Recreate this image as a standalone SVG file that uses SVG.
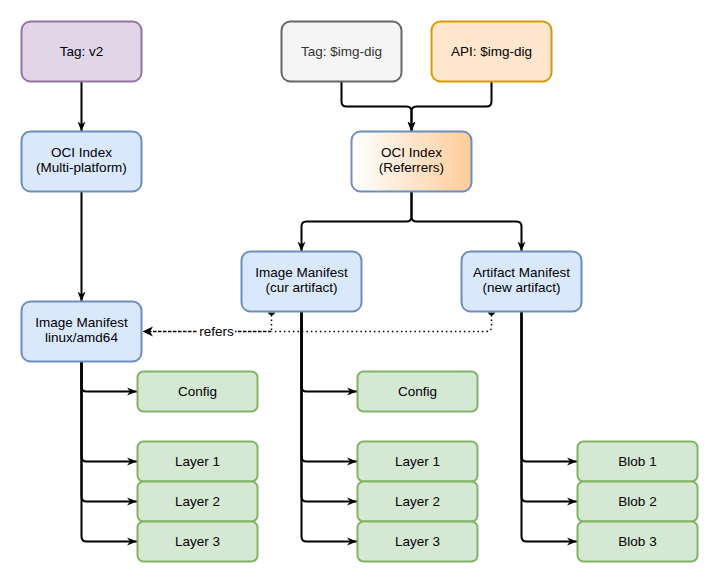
<svg xmlns="http://www.w3.org/2000/svg" width="717" height="582" viewBox="0 0 717 582">
<style>
.n rect{stroke-width:2}
.blue{fill:#dae8fc;stroke:#6c8ebf}
.purple{fill:#e1d5e7;stroke:#9673a6}
.gray{fill:#f5f5f5;stroke:#666666}
.orange{fill:#ffe6cc;stroke:#d79b00}
.green{fill:#d5e8d4;stroke:#82b366}
text{font-family:"Liberation Sans",Arial,sans-serif;font-size:13.5px;fill:#000;text-anchor:middle}
.e{fill:none;stroke:#000;stroke-width:2;stroke-linejoin:round}
.d{fill:none;stroke:#000;stroke-width:1.5}
</style>
<defs>
<linearGradient id="g" x1="0" y1="0" x2="1" y2="0"><stop offset="0" stop-color="#ffffff"/><stop offset="1" stop-color="#ffcc99"/></linearGradient>
<marker id="a" viewBox="0 0 10 10" refX="10" refY="5" markerWidth="10" markerHeight="10" markerUnits="userSpaceOnUse" orient="auto"><path d="M0,1 L10,5 L0,9 L3,5 z" fill="#000"/></marker>
</defs>
<g id="connectors">
<path class="e" d="M81.5,81.5 V131.5" marker-end="url(#a)"/>
<path class="e" d="M81.5,191.5 V301.5" marker-end="url(#a)"/>
<path class="e" d="M341.5,81.5 V101.5 Q341.5,106.5 346.5,106.5 H406.5 Q411.5,106.5 411.5,111.5 V131.5" marker-end="url(#a)"/>
<path class="e" d="M491.5,81.5 V101.5 Q491.5,106.5 486.5,106.5 H416.5 Q411.5,106.5 411.5,111.5 V131.5" marker-end="url(#a)"/>
<path class="e" d="M411.5,191.5 V216.5 Q411.5,221.5 406.5,221.5 H306.5 Q301.5,221.5 301.5,226.5 V251.5" marker-end="url(#a)"/>
<path class="e" d="M411.5,191.5 V216.5 Q411.5,221.5 416.5,221.5 H516.5 Q521.5,221.5 521.5,226.5 V251.5" marker-end="url(#a)"/>
<path class="e" d="M81.5,361.5 V386.5 Q81.5,391.5 86.5,391.5 H137" marker-end="url(#a)"/>
<path class="e" d="M81.5,361.5 V456.5 Q81.5,461.5 86.5,461.5 H137" marker-end="url(#a)"/>
<path class="e" d="M81.5,361.5 V496.5 Q81.5,501.5 86.5,501.5 H137" marker-end="url(#a)"/>
<path class="e" d="M81.5,361.5 V536.5 Q81.5,541.5 86.5,541.5 H137" marker-end="url(#a)"/>
<path class="e" d="M301.5,311.5 V386.5 Q301.5,391.5 306.5,391.5 H357" marker-end="url(#a)"/>
<path class="e" d="M301.5,311.5 V456.5 Q301.5,461.5 306.5,461.5 H357" marker-end="url(#a)"/>
<path class="e" d="M301.5,311.5 V496.5 Q301.5,501.5 306.5,501.5 H357" marker-end="url(#a)"/>
<path class="e" d="M301.5,311.5 V536.5 Q301.5,541.5 306.5,541.5 H357" marker-end="url(#a)"/>
<path class="e" d="M521.5,311.5 V456.5 Q521.5,461.5 526.5,461.5 H577" marker-end="url(#a)"/>
<path class="e" d="M521.5,311.5 V496.5 Q521.5,501.5 526.5,501.5 H577" marker-end="url(#a)"/>
<path class="e" d="M521.5,311.5 V536.5 Q521.5,541.5 526.5,541.5 H577" marker-end="url(#a)"/>
<path class="d" d="M491.5,315 V326.5 Q491.5,331.5 486.5,331.5 H272" stroke-dasharray="1.5 3"/>
<path class="d" d="M271.5,315 V331.5" stroke-dasharray="1.5 3"/>
<path class="d" d="M271.5,331.5 H146" stroke-dasharray="3.5 1.5"/>
<path d="M142.5,331.5 L153,326.5 L150,331.5 L153,336.5 z" fill="#000"/>
<path d="M267.5,312.5 Q271.5,318 275.5,312.5 z" fill="#000"/>
<path d="M487.5,312.5 Q491.5,318 495.5,312.5 z" fill="#000"/>
<rect x="198" y="324" width="37" height="15" fill="#fff"/>
<text x="216.5" y="336">refers</text>
</g>
<g id="tag-v2" class="n"><rect class="purple" x="21.5" y="21.5" width="120" height="60" rx="9"/><text x="81.5" y="56.2">Tag: v2</text></g>
<g id="oci-index-mp" class="n"><rect class="blue" x="21.5" y="131.5" width="120" height="60" rx="9"/><text x="81.5" y="156.7">OCI Index</text><text x="81.5" y="172.3">(Multi-platform)</text></g>
<g id="image-manifest-amd64" class="n"><rect class="blue" x="21.5" y="301.5" width="120" height="60" rx="9"/><text x="81.5" y="326.7">Image Manifest</text><text x="81.5" y="342.3">linux/amd64</text></g>
<g id="tag-img-dig" class="n"><rect class="gray" x="281.5" y="21.5" width="120" height="60" rx="9"/><text x="341.5" y="56.2" style="fill:#333333">Tag: $img-dig</text></g>
<g id="api-img-dig" class="n"><rect class="orange" x="431.5" y="21.5" width="120" height="60" rx="9"/><text x="491.5" y="56.2">API: $img-dig</text></g>
<g id="oci-index-ref" class="n"><rect x="351.5" y="131.5" width="120" height="60" rx="9" fill="url(#g)" stroke="#6c8ebf"/><text x="411.5" y="156.7">OCI Index</text><text x="411.5" y="172.3">(Referrers)</text></g>
<g id="image-manifest-cur" class="n"><rect class="blue" x="241.5" y="251.5" width="120" height="60" rx="9"/><text x="301.5" y="276.7">Image Manifest</text><text x="301.5" y="292.3">(cur artifact)</text></g>
<g id="artifact-manifest-new" class="n"><rect class="blue" x="461.5" y="251.5" width="120" height="60" rx="9"/><text x="521.5" y="276.7">Artifact Manifest</text><text x="521.5" y="292.3">(new artifact)</text></g>
<g id="config-1" class="n"><rect class="green" x="137.5" y="371.5" width="120" height="40" rx="6"/><text x="197.5" y="396.2">Config</text></g>
<g id="layer1-1" class="n"><rect class="green" x="137.5" y="441.5" width="120" height="40" rx="6"/><text x="197.5" y="466.2">Layer 1</text></g>
<g id="layer2-1" class="n"><rect class="green" x="137.5" y="481.5" width="120" height="40" rx="6"/><text x="197.5" y="506.2">Layer 2</text></g>
<g id="layer3-1" class="n"><rect class="green" x="137.5" y="521.5" width="120" height="40" rx="6"/><text x="197.5" y="546.2">Layer 3</text></g>
<g id="config-2" class="n"><rect class="green" x="357.5" y="371.5" width="120" height="40" rx="6"/><text x="417.5" y="396.2">Config</text></g>
<g id="layer1-2" class="n"><rect class="green" x="357.5" y="441.5" width="120" height="40" rx="6"/><text x="417.5" y="466.2">Layer 1</text></g>
<g id="layer2-2" class="n"><rect class="green" x="357.5" y="481.5" width="120" height="40" rx="6"/><text x="417.5" y="506.2">Layer 2</text></g>
<g id="layer3-2" class="n"><rect class="green" x="357.5" y="521.5" width="120" height="40" rx="6"/><text x="417.5" y="546.2">Layer 3</text></g>
<g id="blob1" class="n"><rect class="green" x="577.5" y="441.5" width="120" height="40" rx="6"/><text x="637.5" y="466.2">Blob 1</text></g>
<g id="blob2" class="n"><rect class="green" x="577.5" y="481.5" width="120" height="40" rx="6"/><text x="637.5" y="506.2">Blob 2</text></g>
<g id="blob3" class="n"><rect class="green" x="577.5" y="521.5" width="120" height="40" rx="6"/><text x="637.5" y="546.2">Blob 3</text></g>
</svg>
